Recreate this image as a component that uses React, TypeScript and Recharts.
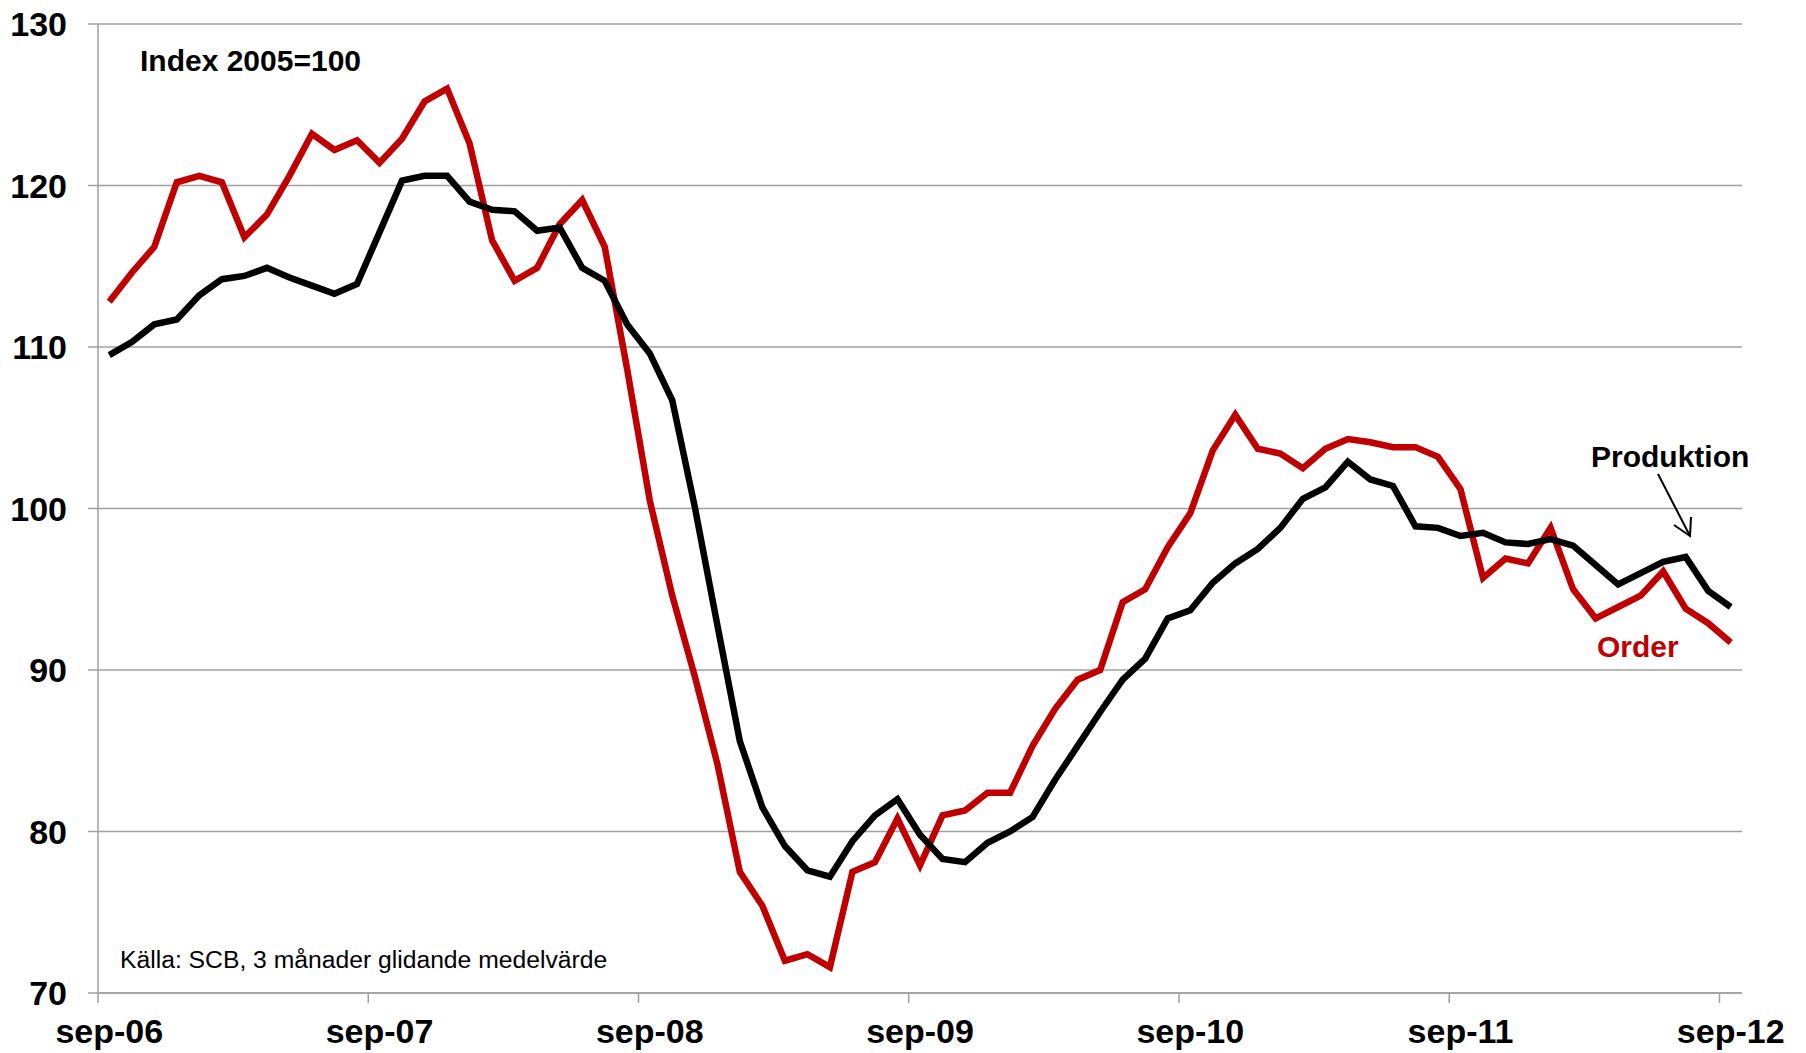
import React from 'react';
import { LineChart, Line, XAxis, YAxis, CartesianGrid } from 'recharts';

// ---- data ----
const MONTHS = ['jan', 'feb', 'mar', 'apr', 'maj', 'jun', 'jul', 'aug', 'sep', 'okt', 'nov', 'dec'];
const START_YEAR = 2006;
const START_MONTH = 8; // sep
const N_MONTHS = 73; // sep-06 .. sep-12

const categories: string[] = Array.from({ length: N_MONTHS }, (_, i) => {
  const m = (START_MONTH + i) % 12;
  const y = START_YEAR + Math.floor((START_MONTH + i) / 12);
  return `${MONTHS[m]}-${String(y % 100).padStart(2, '0')}`;
});

const order: number[] = [
  112.8, 114.6, 116.2, 120.2, 120.6, 120.2, 116.8, 118.2, 120.6, 123.2, 122.2, 122.8,
  121.4, 122.9, 125.2, 126.0, 122.6, 116.6, 114.1, 114.9, 117.6, 119.1, 116.2, 108.6,
  100.5, 94.6, 89.6, 84.2, 77.5, 75.4, 72.0, 72.4, 71.6, 77.5, 78.1, 80.8,
  77.9, 81.0, 81.3, 82.4, 82.4, 85.3, 87.6, 89.4, 90.0, 94.2, 95.0, 97.6,
  99.7, 103.6, 105.8, 103.7, 103.4, 102.5, 103.7, 104.3, 104.1, 103.8, 103.8, 103.2,
  101.2, 95.7, 96.9, 96.6, 98.8, 95.0, 93.2, 93.9, 94.6, 96.1, 93.8, 92.9,
  91.7,
];

const produktion: number[] = [
  109.5, 110.3, 111.4, 111.7, 113.2, 114.2, 114.4, 114.9, 114.3, 113.8, 113.3, 113.9,
  117.1, 120.3, 120.6, 120.6, 119.0, 118.5, 118.4, 117.2, 117.4, 114.9, 114.1, 111.4,
  109.6, 106.7, 100.1, 92.8, 85.6, 81.5, 79.1, 77.6, 77.2, 79.4, 81.0, 82.0,
  79.8, 78.3, 78.1, 79.3, 80.0, 80.9, 83.2, 85.3, 87.4, 89.4, 90.7, 93.2,
  93.7, 95.4, 96.6, 97.5, 98.8, 100.6, 101.3, 102.9, 101.8, 101.4, 98.9, 98.8,
  98.3, 98.5, 97.9, 97.8, 98.1, 97.7, 96.5, 95.3, 96.0, 96.7, 97.0, 94.9,
  93.9,
];

const yTicks: number[] = [70, 80, 90, 100, 110, 120, 130];
const xTickIdx: number[] = [0, 12, 24, 36, 48, 60, 72];

const data = categories.map((label, i) => ({
  idx: i,
  label,
  order: order[i],
  produktion: produktion[i],
}));

// ---- layout / style ----
const W = 1806;
const H = 1053;
const M_TOP = 24;
const M_RIGHT = 64;
const Y_AXIS_W = 98;
const X_AXIS_H = 60;
const PLOT_W = W - M_RIGHT - Y_AXIS_W;
const AXIS_Y = H - X_AXIS_H;
const HALF_BAND = PLOT_W / N_MONTHS / 2;
const GRID = '#A0A0A0';
const RED = '#C00000';
const FONT = '"Liberation Sans", Arial, sans-serif';

const XTick = (props: any) => {
  const { x, payload } = props;
  return (
    <g>
      <line x1={x - HALF_BAND} x2={x - HALF_BAND} y1={AXIS_Y} y2={AXIS_Y + 10} stroke={GRID} strokeWidth={1.5} />
      <text
        x={x}
        y={AXIS_Y + 50}
        textAnchor="middle"
        fontFamily={FONT}
        fontWeight="bold"
        fontSize={34}
        fill="#000"
      >
        {categories[payload.value]}
      </text>
    </g>
  );
};

export default function App() {
  return (
    <div style={{ position: 'absolute', left: 0, top: 0, width: W, height: H, background: '#fff' }}>
      <LineChart
        width={W}
        height={H}
        data={data}
        margin={{ top: M_TOP, right: M_RIGHT, bottom: 0, left: 0 }}
      >
        <CartesianGrid vertical={false} stroke={GRID} strokeWidth={1.5} />
        <XAxis
          dataKey="idx"
          type="number"
          domain={[-0.5, N_MONTHS - 0.5]}
          ticks={xTickIdx}
          interval={0}
          height={X_AXIS_H}
          axisLine={{ stroke: GRID, strokeWidth: 1.5 }}
          tickLine={false}
          tick={<XTick />}
        />
        <YAxis
          type="number"
          domain={[70, 130]}
          ticks={yTicks}
          interval={0}
          width={Y_AXIS_W}
          axisLine={{ stroke: GRID, strokeWidth: 1.5 }}
          tickLine={{ stroke: GRID, strokeWidth: 1.5 }}
          tickSize={10}
          tickMargin={21}
          tick={{ fontFamily: FONT, fontWeight: 'bold', fontSize: 34, fill: '#000' }}
        />
        <Line
          dataKey="order"
          stroke={RED}
          strokeWidth={6.5}
          dot={false}
          isAnimationActive={false}
        />
        <Line
          dataKey="produktion"
          stroke="#000"
          strokeWidth={6.5}
          dot={false}
          isAnimationActive={false}
        />
      </LineChart>
      <svg
        width={W}
        height={H}
        style={{ position: 'absolute', left: 0, top: 0, pointerEvents: 'none' }}
      >
        <text x={140} y={71} fontFamily={FONT} fontWeight="bold" fontSize={30} fill="#000">
          Index 2005=100
        </text>
        <text x={120} y={968} fontFamily={FONT} fontSize={24.7} fill="#000">
          Källa: SCB, 3 månader glidande medelvärde
        </text>
        <text x={1591} y={467} fontFamily={FONT} fontWeight="bold" fontSize={30} fill="#000">
          Produktion
        </text>
        <text x={1597} y={657} fontFamily={FONT} fontWeight="bold" fontSize={30} fill={RED}>
          Order
        </text>
        <line x1={1658} y1={474} x2={1690} y2={536} stroke="#000" strokeWidth={2} />
        <polyline points="1674,525 1690,536 1691,517" fill="none" stroke="#000" strokeWidth={2} />
      </svg>
    </div>
  );
}
